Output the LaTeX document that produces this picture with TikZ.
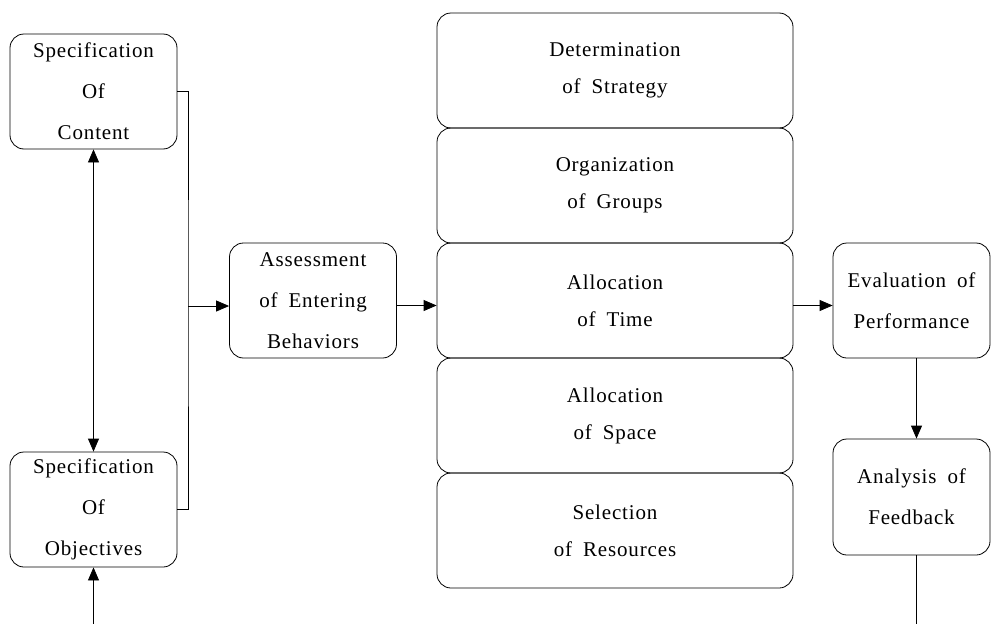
\documentclass[tikz,border=0pt]{standalone}
\usepackage{fontspec}
\setmainfont{Liberation Serif}[LetterSpace=4,WordSpace=1.8]
\usetikzlibrary{arrows.meta}

\tikzset{
  stagebox/.style={draw, rounded corners=14pt, align=center, inner sep=0pt,
    minimum width=167pt, minimum height=115pt,
    font=\fontsize{21}{41}\selectfont},
  planbox/.style={stagebox, minimum width=356pt,
    font=\fontsize{21}{37}\selectfont},
  flow/.style={-{Triangle[length=13pt,width=11pt]}},
  twoway/.style={{Triangle[length=13pt,width=11pt]}-{Triangle[length=13pt,width=11pt]}}
}

\begin{document}
\begin{tikzpicture}[x=1pt,y=-1pt,line width=0.8pt]
    \useasboundingbox (0,0) rectangle (991,624);

    % left column
    \node[stagebox] (content) at (93.5,91.5) {Specification\\Of\\Content};
    \node[stagebox] (objectives) at (93.5,509.5) {Specification\\Of\\Objectives};
    \node[stagebox] (assess) at (313,300.5) {Assessment\\of Entering\\Behaviors};

    % planning column
    \node[planbox] (strategy) at (615,70.5) {Determination\\of Strategy};
    \node[planbox] (groups) at (615,185.5) {Organization\\of Groups};
    \node[planbox] (time) at (615,300.5) {Allocation\\of Time};
    \node[planbox] (space) at (615,415.5) {Allocation\\of Space};
    \node[planbox] (resources) at (615,530.5) {Selection\\of Resources};

    % right column
    \node[stagebox, minimum width=157pt] (eval) at (911.5,300.5) {Evaluation of\\Performance};
    \node[stagebox, minimum width=157pt, minimum height=116pt] (feedback) at (911.5,497) {Analysis of\\Feedback};

    \coordinate (join) at (188,306);
    \coordinate (inflow) at (objectives.south |- 0,624);
    \coordinate (outflow) at ([xshift=5pt]feedback.south |- 0,624);

    \draw (content.east) -| (join) |- (objectives.east);
    \draw[flow] (join) -- (join -| assess.west);
    \draw[flow] ([yshift=-5pt]assess.east) -- ([yshift=-5pt]time.west);
    \draw[flow] ([yshift=-5pt]time.east) -- ([yshift=-5pt]eval.west);
    \draw[flow] ([xshift=5pt]eval.south) -- ([xshift=5pt]feedback.north);
    \draw ([xshift=5pt]feedback.south) -- (outflow);
    \draw[flow] (inflow) -- (objectives.south);
    \draw[twoway] (content.south) -- (objectives.north);
\end{tikzpicture}
\end{document}
